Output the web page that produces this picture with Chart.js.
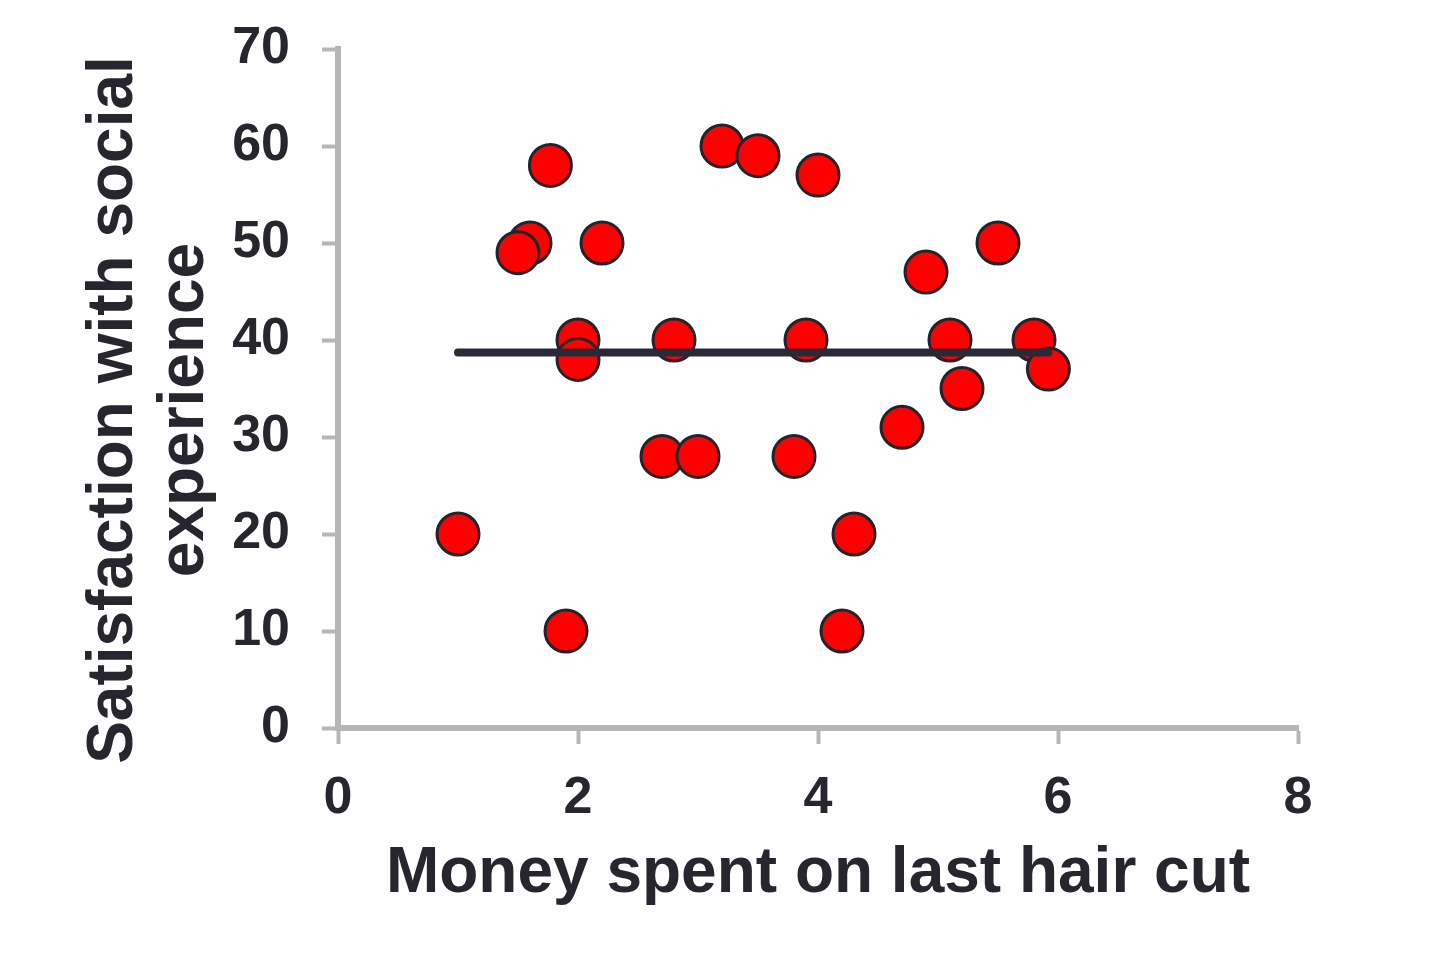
<!DOCTYPE html>
<html lang="en">
<head>
    <meta charset="UTF-8">
    <title>Money spent on last hair cut</title>
    <script src="https://cdn.jsdelivr.net/npm/chart.js"></script>
    <style>
        html, body { margin: 0; padding: 0; background: #ffffff; }
        .chart-box { width: 1440px; height: 974px; }
    </style>
</head>
<body>

<div class="chart-box">
    <canvas id="hairChart"></canvas>
</div>

<script>
    // values
    const moneySpent   = [1.0, 1.9, 1.77, 1.6, 1.5, 2.2, 2.0, 2.0, 2.7, 2.8, 3.0, 3.2, 3.5, 4.0, 3.9, 3.8, 4.3, 4.2, 4.7, 4.9, 5.1, 5.2, 5.5, 5.8, 5.92];
    const satisfaction = [20, 10, 58, 50, 49, 50, 40, 38, 28, 40, 28, 60, 59, 57, 40, 28, 20, 10, 31, 47, 40, 35, 50, 40, 37];
    const trendX = [1.0, 5.92];
    const trendY = [38.7, 38.7];
    const xTicks = [0, 2, 4, 6, 8];
    const yTicks = [0, 10, 20, 30, 40, 50, 60, 70];
    const xTitle = 'Money spent on last hair cut';
    const yTitle = ['Satisfaction with social', 'experience'];

    const fontFamily = '"Liberation Sans", Arial, sans-serif';
    const textColor = '#26262f';
    const axisColor = '#b6b6b9';

    Chart.defaults.font.family = fontFamily;
    Chart.defaults.color = textColor;

    // y title drawn by hand so it can sit where the original has it
    const yTitlePlugin = {
        id: 'yTitle',
        afterDraw(chart) {
            const ctx = chart.ctx;
            const baselines = [132, 203];
            ctx.save();
            ctx.font = 'bold 64px ' + fontFamily;
            ctx.fillStyle = textColor;
            ctx.textAlign = 'center';
            ctx.textBaseline = 'alphabetic';
            yTitle.forEach((line, i) => {
                ctx.save();
                ctx.translate(baselines[i], 410);
                ctx.rotate(-Math.PI / 2);
                ctx.fillText(line, 0, 0);
                ctx.restore();
            });
            ctx.restore();
        }
    };

    const points = moneySpent.map((x, i) => ({ x: x, y: satisfaction[i] }));
    const trend = trendX.map((x, i) => ({ x: x, y: trendY[i] }));

    new Chart(document.getElementById('hairChart'), {
        type: 'scatter',
        data: {
            datasets: [{
                label: 'Trend',
                data: trend,
                showLine: true,
                pointRadius: 0,
                borderColor: '#2a2a36',
                borderWidth: 8,
                borderCapStyle: 'round',
                order: 0
            }, {
                label: 'Respondents',
                data: points,
                pointRadius: 21,
                pointHoverRadius: 21,
                pointBackgroundColor: '#ff0000',
                pointBorderColor: '#23232e',
                pointBorderWidth: 3,
                order: 1
            }]
        },
        options: {
            responsive: true,
            maintainAspectRatio: false,
            animation: false,
            devicePixelRatio: 1,
            layout: {
                padding: { left: 0, top: 49, right: 142, bottom: 60 }
            },
            plugins: {
                legend: { display: false },
                tooltip: { enabled: false }
            },
            scales: {
                x: {
                    type: 'linear',
                    min: 0,
                    max: 8,
                    afterBuildTicks: s => { s.ticks = xTicks.map(v => ({ value: v })); },
                    afterFit: s => { s.height = 186; s.paddingLeft = 0; s.paddingRight = 0; },
                    border: { color: axisColor, width: 6 },
                    grid: { drawOnChartArea: false, tickLength: 16, tickColor: axisColor, tickWidth: 4 },
                    ticks: { padding: 23, font: { size: 52, weight: 'bold' }, color: textColor },
                    title: {
                        display: true,
                        text: xTitle,
                        font: { size: 64, weight: 'bold', lineHeight: 1.15 },
                        color: textColor,
                        padding: { top: 0, bottom: 3 }
                    }
                },
                y: {
                    type: 'linear',
                    min: 0,
                    max: 70,
                    afterBuildTicks: s => { s.ticks = yTicks.map(v => ({ value: v })); },
                    afterFit: s => { s.width = 338; s.paddingTop = 0; s.paddingBottom = 0; },
                    border: { color: axisColor, width: 6 },
                    grid: { drawOnChartArea: false, tickLength: 16, tickColor: axisColor, tickWidth: 4 },
                    ticks: { padding: 32, font: { size: 52, weight: 'bold' }, color: textColor }
                }
            }
        },
        plugins: [yTitlePlugin]
    });
</script>

</body>
</html>
